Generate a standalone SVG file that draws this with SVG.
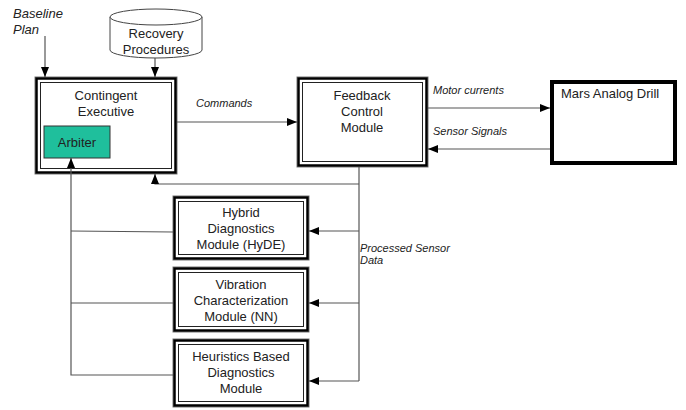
<svg xmlns="http://www.w3.org/2000/svg" width="686" height="410" viewBox="0 0 686 410">
  <defs>
    <marker id="arrow" markerUnits="userSpaceOnUse" markerWidth="10" markerHeight="10" viewBox="0 0 10 10" refX="10" refY="5" orient="auto">
      <path d="M0,1 L10,5 L0,9 Z" fill="#000"/>
    </marker>
  </defs>
  <style>
    .frame-out { fill: #fff; stroke: #777; stroke-width: 1; }
    .frame-mid { fill: none; stroke: #000; stroke-width: 2.5; }
    .frame-in { fill: none; stroke: #222; stroke-width: 1; }
    .label { font-family: "Liberation Sans", Arial, sans-serif; font-size: 13px; fill: #222; text-anchor: middle; }
    .note { font-family: "Liberation Sans", Arial, sans-serif; font-size: 11px; font-style: italic; fill: #222; }
    .wire { fill: none; stroke: #555; stroke-width: 1.2; }
    .arr { marker-end: url(#arrow); }
  </style>

  <!-- free labels -->
  <text x="13" y="18" class="note" style="font-size:13px">Baseline</text>
  <text x="13" y="34" class="note" style="font-size:13px">Plan</text>
  <text x="196" y="107" class="note">Commands</text>
  <text x="433" y="94" class="note">Motor currents</text>
  <text x="433" y="135" class="note">Sensor Signals</text>
  <text x="360" y="252" class="note">Processed Sensor</text>
  <text x="360" y="264" class="note">Data</text>

  <!-- Recovery Procedures store -->
  <g id="recovery">
    <path d="M110,17 V50 A46,8 0 0 0 202,50 V17" fill="#fff" stroke="#444" stroke-width="1"/>
    <ellipse cx="156" cy="17" rx="46" ry="8" fill="#fff" stroke="#444" stroke-width="1"/>
    <text x="156" y="38" class="label">Recovery</text>
    <text x="156" y="54" class="label">Procedures</text>
  </g>

  <!-- Contingent Executive -->
  <g id="contingent-executive">
    <rect x="35" y="77" width="142" height="97" class="frame-out"/>
    <rect x="36.5" y="78.5" width="139" height="94" class="frame-mid"/>
    <rect x="40.5" y="82.5" width="131" height="86" class="frame-in"/>
    <text x="106" y="100" class="label">Contingent</text>
    <text x="106" y="116" class="label">Executive</text>
  </g>

  <!-- Arbiter -->
  <g id="arbiter">
    <rect x="44" y="126" width="66" height="32" fill="#1fbf9c" stroke="#333" stroke-width="1"/>
    <text x="77" y="147" class="label">Arbiter</text>
  </g>

  <!-- Feedback Control Module -->
  <g id="feedback-control">
    <rect x="297" y="77" width="131" height="90" class="frame-out"/>
    <rect x="298.5" y="78.5" width="128" height="87" class="frame-mid"/>
    <rect x="302.5" y="82.5" width="120" height="79" class="frame-in"/>
    <text x="362" y="100" class="label">Feedback</text>
    <text x="362" y="116" class="label">Control</text>
    <text x="362" y="132" class="label">Module</text>
  </g>

  <!-- Mars Analog Drill -->
  <g id="drill">
    <rect x="552" y="82" width="123" height="81" fill="#fff" stroke="#000" stroke-width="4"/>
    <text x="561" y="98" class="label" style="text-anchor:start">Mars Analog Drill</text>
  </g>

  <!-- HyDE -->
  <g id="hyde">
    <rect x="173" y="196" width="136" height="64" class="frame-out"/>
    <rect x="174.5" y="197.5" width="133" height="61" class="frame-mid"/>
    <rect x="178.5" y="201.5" width="125" height="53" class="frame-in"/>
    <text x="241" y="217" class="label">Hybrid</text>
    <text x="241" y="233" class="label">Diagnostics</text>
    <text x="241" y="249" class="label">Module (HyDE)</text>
  </g>

  <!-- Vibration -->
  <g id="vibration">
    <rect x="173" y="267" width="136" height="65" class="frame-out"/>
    <rect x="174.5" y="268.5" width="133" height="62" class="frame-mid"/>
    <rect x="178.5" y="272.5" width="125" height="54" class="frame-in"/>
    <text x="241" y="289" class="label">Vibration</text>
    <text x="241" y="305" class="label">Characterization</text>
    <text x="241" y="321" class="label">Module (NN)</text>
  </g>

  <!-- Heuristics -->
  <g id="heuristics">
    <rect x="173" y="339" width="136" height="68" class="frame-out"/>
    <rect x="174.5" y="340.5" width="133" height="65" class="frame-mid"/>
    <rect x="178.5" y="344.5" width="125" height="57" class="frame-in"/>
    <text x="241" y="361" class="label">Heuristics Based</text>
    <text x="241" y="377" class="label">Diagnostics</text>
    <text x="241" y="393" class="label">Module</text>
  </g>

  <!-- connectors -->
  <g id="connectors">
    <path d="M45,36 V77" class="wire arr"/>
    <path d="M155,58 V77" class="wire arr"/>
    <path d="M177,122 H297" class="wire arr"/>
    <path d="M428,108 H550" class="wire arr"/>
    <path d="M550,149 H428" class="wire arr"/>
    <path d="M359,167 V381" class="wire"/>
    <path d="M359,184 H155 V174" class="wire arr"/>
    <path d="M359,231 H309" class="wire arr"/>
    <path d="M359,303 H309" class="wire arr"/>
    <path d="M359,381 H309" class="wire arr"/>
    <path d="M173,232 L71,231" class="wire"/>
    <path d="M173,303 H71" class="wire"/>
    <path d="M173,375 H71 V158" class="wire arr"/>
  </g>
</svg>
